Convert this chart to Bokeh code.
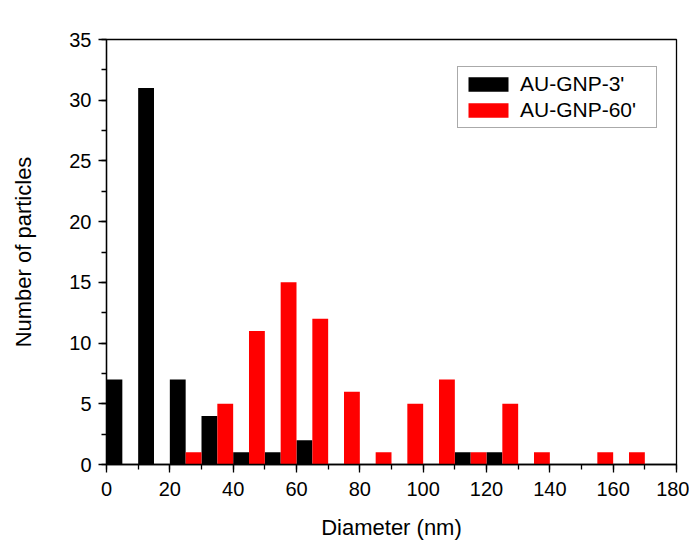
from bokeh.plotting import figure
from bokeh.models import Range1d, SingleIntervalTicker, Legend, LegendItem
from bokeh.embed import file_html
from bokeh.resources import INLINE

bin_width = 5
black_left = [0, 10, 20, 30, 40, 50, 60, 110, 120]
black_counts = [7, 31, 7, 4, 1, 1, 2, 1, 1]
red_left = [25, 35, 45, 55, 65, 75, 85, 95, 105, 115, 125, 135, 155, 165]
red_counts = [1, 5, 11, 15, 12, 6, 1, 5, 7, 1, 5, 1, 1, 1]

FONT = "Liberation Sans"

p = figure(width=689, height=548, output_backend="svg", toolbar_location=None,
           x_range=Range1d(0, 180), y_range=Range1d(0, 35),
           min_border_left=106, min_border_right=13, min_border_top=39, min_border_bottom=84)
p.grid.visible = False
p.outline_line_color = "black"
p.outline_line_width = 1.3
p.background_fill_color = "white"
p.border_fill_color = "white"

rb = p.vbar(x=[l + bin_width / 2 for l in black_left], top=black_counts, width=bin_width,
            bottom=0, fill_color="black", line_color=None)
rr = p.vbar(x=[l + bin_width / 2 for l in red_left], top=red_counts, width=bin_width,
            bottom=0, fill_color="#FF0000", line_color=None)

p.xaxis.ticker = SingleIntervalTicker(interval=20, num_minor_ticks=2)
p.yaxis.ticker = SingleIntervalTicker(interval=5, num_minor_ticks=2)
for ax in (p.xaxis[0], p.yaxis[0]):
    ax.major_tick_in = 0
    ax.major_tick_out = 8
    ax.minor_tick_in = 0
    ax.minor_tick_out = 5
    ax.axis_line_width = 1.3
    ax.major_tick_line_width = 1.3
    ax.minor_tick_line_width = 1.3
    ax.major_label_text_font = FONT
    ax.major_label_text_font_size = "20px"
    ax.major_label_text_color = "black"
    ax.axis_label_text_font = FONT
    ax.axis_label_text_font_size = "22px"
    ax.axis_label_text_font_style = "normal"
    ax.axis_label_text_color = "black"
p.xaxis.axis_label = "Diameter (nm)"
p.yaxis.axis_label = "Number of particles"
p.xaxis.major_label_standoff = 9
p.yaxis.major_label_standoff = 7
p.xaxis.axis_label_standoff = 16
p.yaxis.axis_label_standoff = 30

legend = Legend(items=[LegendItem(label="AU-GNP-3'", renderers=[rb]),
                       LegendItem(label="AU-GNP-60'", renderers=[rr])],
                location=(351, 336))
legend.label_text_font = FONT
legend.label_text_font_size = "21px"
legend.label_text_color = "black"
legend.label_height = 18
legend.label_width = 131
legend.glyph_width = 50
legend.glyph_height = 18
legend.label_standoff = 7
legend.spacing = 2
legend.padding = 5
legend.margin = 0
legend.border_line_color = "#555555"
legend.border_line_width = 1
legend.background_fill_alpha = 1
p.add_layout(legend, "center")

open("out.html", "w").write(file_html(p, INLINE))
